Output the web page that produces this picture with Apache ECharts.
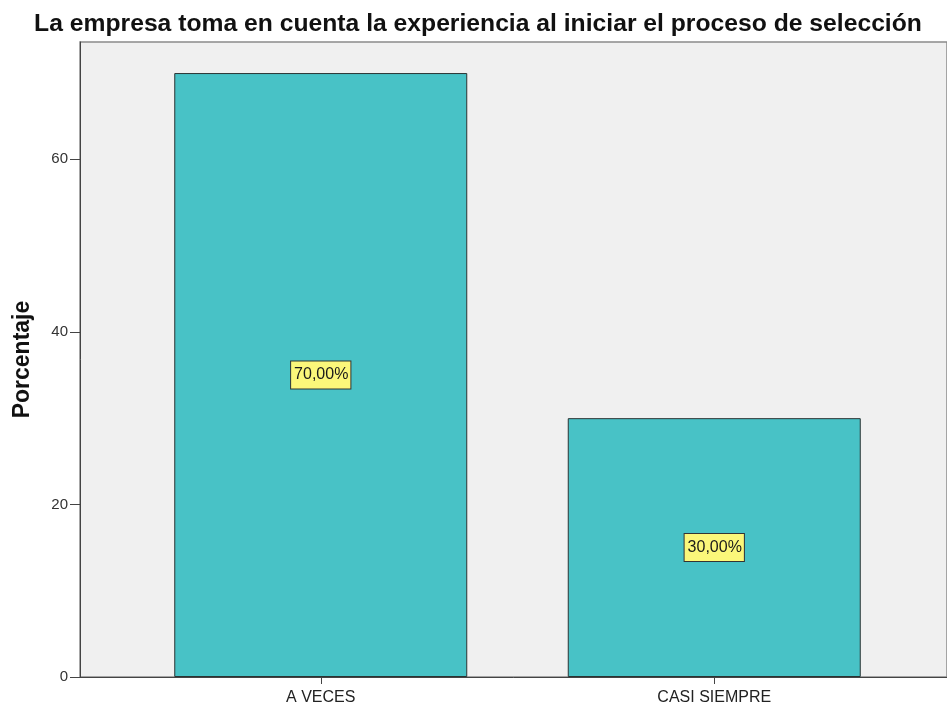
<!DOCTYPE html>
<html>
<head>
<meta charset="utf-8">
<script src="https://cdn.jsdelivr.net/npm/echarts@6/dist/echarts.min.js"></script>
<style>
  html, body { margin: 0; padding: 0; background: #ffffff; }
  #chart { width: 947px; height: 706px; }
</style>
</head>
<body>
<div id="chart"></div>
<script>
// Response categories and their share of answers (%)
const categories = ['A VECES', 'CASI SIEMPRE'];
const percentages = [70, 30];
const yTicks = [0, 20, 40, 60];
const yMax = 73.6;

const chart = echarts.init(document.getElementById('chart'));

const fontMain = 'Liberation Sans, Arial, sans-serif';

chart.setOption({
  animation: false,
  backgroundColor: '#ffffff',
  title: {
    text: 'La empresa toma en cuenta la experiencia al iniciar el proceso de selección',
    left: 473,
    textAlign: 'center',
    top: 7,
    textStyle: {
      fontFamily: fontMain,
      fontSize: 24.7,
      fontWeight: 'bold',
      color: '#111'
    }
  },
  grid: [
    // outer frame: grey plotting area with frame lines
    {
      left: 80, top: 42, width: 874, height: 635,
      show: true,
      backgroundColor: '#f0f0f0',
      borderColor: '#8a8a8a',
      borderWidth: 1.5
    },
    // inner grid holding the category bands
    {
      left: 124, top: 42, width: 787, height: 635
    }
  ],
  xAxis: [
    {
      gridIndex: 0,
      type: 'value',
      min: 0, max: 1,
      axisLine: { show: true, lineStyle: { color: '#444', width: 1 } },
      axisTick: { show: false },
      axisLabel: { show: false },
      splitLine: { show: false }
    },
    {
      gridIndex: 1,
      type: 'category',
      data: categories,
      axisLine: { show: false },
      axisTick: {
        show: true,
        alignWithLabel: true,
        length: 7,
        lineStyle: { color: '#444' }
      },
      axisLabel: {
        fontFamily: fontMain,
        fontSize: 16,
        color: '#222',
        margin: 13
      },
      splitLine: { show: false }
    }
  ],
  yAxis: [
    {
      gridIndex: 0,
      type: 'value',
      min: 0, max: yMax,
      axisLine: { show: true, lineStyle: { color: '#444', width: 1 } },
      axisTick: { show: false },
      axisLabel: { show: false },
      splitLine: { show: false }
    },
    {
      gridIndex: 1,
      type: 'value',
      min: 0,
      max: yMax,
      interval: 20,
      offset: 44,
      name: 'Porcentaje',
      nameLocation: 'middle',
      nameGap: 46,
      nameTextStyle: {
        fontFamily: fontMain,
        fontSize: 23,
        fontWeight: 'bold',
        color: '#111'
      },
      splitLine: { show: false },
      axisLine: { show: false },
      axisTick: { show: true, length: 10, lineStyle: { color: '#444' } },
      axisLabel: {
        showMaxLabel: false,
        formatter: v => (yTicks.indexOf(v) >= 0 ? String(v) : ''),
        fontFamily: fontMain,
        fontSize: 15,
        color: '#333',
        margin: 12
      }
    }
  ],
  series: [{
    type: 'bar',
    xAxisIndex: 1,
    yAxisIndex: 1,
    data: percentages,
    barWidth: 293,
    itemStyle: {
      color: '#48c2c6',
      borderColor: '#2a3333',
      borderWidth: 1
    },
    label: {
      show: true,
      position: 'inside',
      formatter: p => p.value.toFixed(2).replace('.', ',') + '%',
      fontFamily: fontMain,
      fontSize: 16,
      color: '#1a1a1a',
      backgroundColor: '#fbf77a',
      borderColor: '#333',
      borderWidth: 1,
      padding: [6, 2, 5, 3]
    }
  }]
});
</script>
</body>
</html>
